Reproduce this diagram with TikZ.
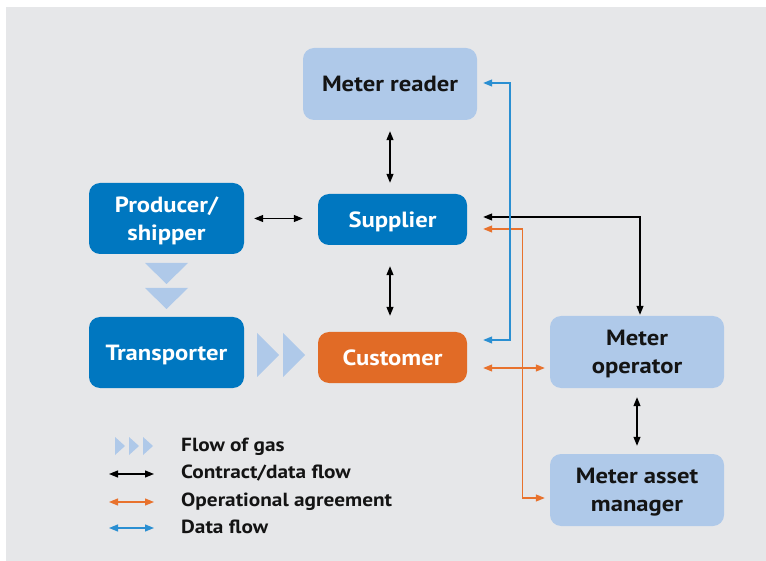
\documentclass[tikz,border=0pt]{standalone}
\usepackage{fontspec}
\setmainfont{PT Sans}[FakeStretch=1.12]
\usetikzlibrary{arrows.meta,calc}

\definecolor{panel}{HTML}{E6E7E9}
\definecolor{dkblue}{HTML}{0077C0}
\definecolor{ltblue}{HTML}{AFC9E9}
\definecolor{orng}{HTML}{E16B26}
\definecolor{txt}{HTML}{141414}
\definecolor{gasflow}{HTML}{AFC9E9}
\definecolor{dataline}{HTML}{2A8FD2}
\definecolor{opline}{HTML}{E8722D}

\tikzset{
  box/.style={rounded corners=11pt, inner sep=0pt, align=center, text depth=0pt,
    font=\fontsize{22}{28}\selectfont\bfseries},
  darkbox/.style={box, fill=dkblue, text=white},
  lightbox/.style={box, fill=ltblue, text=txt},
  orangebox/.style={box, fill=orng, text=white},
  link/.style={line width=1.2pt, {Triangle[length=9pt,width=7pt]}-{Triangle[length=9pt,width=7pt]}},
  cflow/.style={link, draw=black},
  oflow/.style={link, draw=opline},
  dflow/.style={link, draw=dataline},
  legtext/.style={anchor=base west, inner sep=0pt, text=txt,
    font=\fontsize{19}{22}\selectfont\bfseries},
}

\begin{document}
\begin{tikzpicture}[x=1pt,y=-1pt]
  % panel
  \fill[white] (0,0) rectangle (766,561);
  \fill[panel] (6,7) rectangle (766,561);
  \useasboundingbox (0,0) rectangle (766,561);

  % boxes
  \node[lightbox,  minimum width=174pt, minimum height=72pt] (mr)  at (390,84)    {Meter reader};
  \node[darkbox,   minimum width=155pt, minimum height=71pt] (ps)  at (166.5,218.5) {Producer/\\shipper};
  \node[darkbox,   minimum width=149pt, minimum height=51pt] (su)  at (392.5,219.5) {Supplier};
  \node[darkbox,   minimum width=155pt, minimum height=71pt] (tr)  at (166.5,352.5) {Transporter};
  \node[orangebox, minimum width=149pt, minimum height=51pt] (cu)  at (392.5,357.5) {Customer};
  \node[lightbox,  minimum width=174pt, minimum height=72pt] (mo)  at (637,352)   {Meter\\operator};
  \node[lightbox,  minimum width=174pt, minimum height=72pt] (mam) at (637,490)   {Meter asset\\manager};

  % flow of gas
  \fill[gasflow] (145,263) -- (188,263) -- (166.5,284) -- cycle;
  \fill[gasflow] (145,288) -- (188,288) -- (166.5,309) -- cycle;
  \fill[gasflow] (257,333) -- (279,355) -- (257,377) -- cycle;
  \fill[gasflow] (283,333) -- (305,355) -- (283,377) -- cycle;

  % contract/data flow
  \draw[cflow] ($(mr.south)+(0,11)$) -- ($(mr.south |- su.north)+(0,-11)$);
  \draw[cflow] ($(ps.east)+(10,0)$) -- ($(ps.east -| su.west)+(-15,0)$);
  \draw[cflow] ($(mr.south |- su.south)+(0,21)$) -- ($(mr.south |- cu.north)+(0,-16)$);
  \draw[cflow] ($(su.east)+(16,-2.5)$) -| ($(mo.north)+(3,-1)$);
  \draw[cflow] ($(mo.south)+(0,9)$) -- ($(mam.north)+(0,-8)$);

  % operational agreements
  \coordinate (oc) at ($(cu.east)+(16,10.5)$);
  \draw[oflow] ($(su.east)+(16,9.5)$) -| ($(mam.west)+(-27.5,8)$) -- ($(mam.west)+(-5,8)$);
  \draw[oflow] (oc) -- ($(oc -| mo.west)+(-5,0)$);

  % data flow
  \coordinate (bx) at (510,0);
  \draw[dflow] ($(mr.east)+(6,-1)$) -- ($(mr.east -| bx)+(0,-1)$) |- ($(cu.east)+(16,-17.5)$);

  % legend
  \fill[gasflow] (115,437) -- (125,446) -- (115,455) -- cycle;
  \fill[gasflow] (129,437) -- (139,446) -- (129,455) -- cycle;
  \fill[gasflow] (143,437) -- (153,446) -- (143,455) -- cycle;
  \coordinate (l1a) at (109,474); \coordinate (l1b) at (154,474);
  \coordinate (l2a) at (109,502); \coordinate (l2b) at (154,502);
  \coordinate (l3a) at (109,528); \coordinate (l3b) at (154,528);
  \draw[cflow] (l1a) -- (l1b);
  \draw[oflow] (l2a) -- (l2b);
  \draw[dflow] (l3a) -- (l3b);
  \node[legtext] (lg0) at (181,451) {Flow of gas};
  \node[legtext] (lg1) at (181,478) {Contract/data flow};
  \node[legtext] (lg2) at (181,506) {Operational agreement};
  \node[legtext] (lg3) at (181,533) {Data flow};
\end{tikzpicture}
\end{document}
